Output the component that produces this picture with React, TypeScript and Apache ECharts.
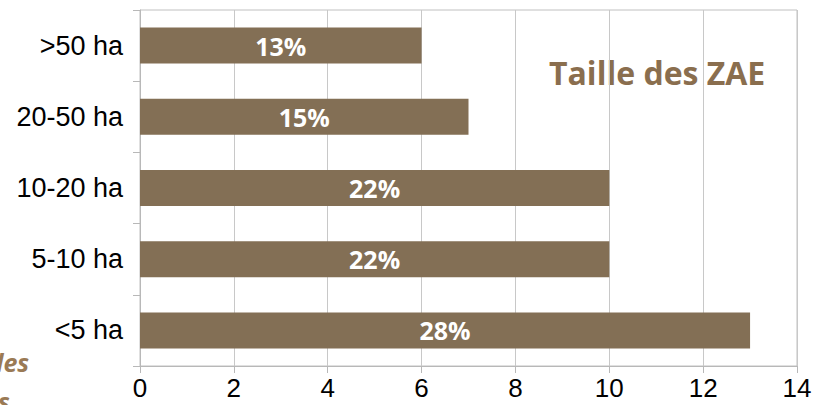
import React, { useEffect, useRef } from "react";
import * as echarts from "echarts";

const categories = ["<5 ha", "5-10 ha", "10-20 ha", "20-50 ha", ">50 ha"];
const values = [13, 10, 10, 7, 6];
const shares = ["28%", "22%", "22%", "15%", "13%"];
const titleText = "Taille des ZAE";

export default function App() {
  const ref = useRef<HTMLDivElement>(null);
  useEffect(() => {
    if (!ref.current) return;
    const chart = echarts.init(ref.current, undefined, { renderer: "svg" });
    chart.setOption({
      animation: false,
      grid: {
        left: 140,
        right: 28,
        top: 10,
        bottom: 39,
        show: true,
        borderColor: "#c0c0c0",
        borderWidth: 1,
      },
      xAxis: {
        type: "value",
        min: 0,
        max: 14,
        interval: 2,
        axisLine: { show: true, lineStyle: { color: "#b8b8b8" } },
        axisTick: { show: true, length: 7, lineStyle: { color: "#b8b8b8" } },
        axisLabel: {
          color: "#000",
          fontFamily: "Liberation Sans",
          fontSize: 26,
          margin: 9,
        },
        splitLine: { show: true, lineStyle: { color: "#c8c8c8" } },
      },
      yAxis: {
        type: "category",
        data: categories,
        axisLine: { show: true, lineStyle: { color: "#b8b8b8" } },
        axisTick: { show: true, length: 7, lineStyle: { color: "#b8b8b8" } },
        axisLabel: {
          color: "#000",
          fontFamily: "Liberation Sans",
          fontSize: 27,
          margin: 17,
        },
      },
      series: [
        {
          type: "bar",
          data: values,
          barWidth: 36,
          itemStyle: { color: "#836f55" },
          label: {
            show: true,
            position: "inside",
            color: "#fff",
            fontFamily: "Open Sans",
            fontWeight: "bold",
            fontSize: 25,
            formatter: (p: any) => shares[p.dataIndex],
          },
        },
      ],
      graphic: [
        {
          type: "text",
          left: 549,
          top: 56,
          style: {
            text: titleText,
            fill: "#8a6e4e",
            font: "bold 32px 'Open Sans'",
          },
        },
        {
          type: "text",
          x: -4,
          y: 349,
          style: {
            text: "les",
            fill: "#9a7a55",
            font: "italic bold 25px 'Open Sans'",
          },
        },
        {
          type: "text",
          x: -2,
          y: 388,
          style: {
            text: "s",
            fill: "#9a7a55",
            font: "italic bold 25px 'Open Sans'",
          },
        },
      ],
    });
    return () => chart.dispose();
  }, []);
  return <div ref={ref} style={{ width: 825, height: 405, position: "absolute", left: 0, top: 0 }} />;
}
